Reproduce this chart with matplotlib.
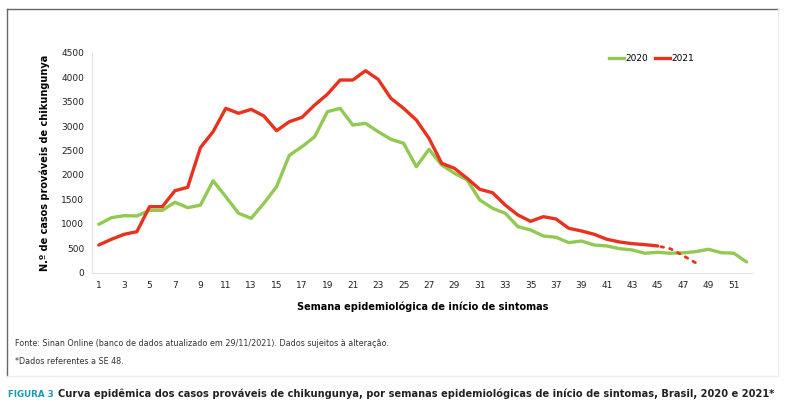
import numpy as np
import matplotlib.pyplot as plt
from matplotlib.lines import Line2D

# Casos prováveis de chikungunya por semana epidemiológica
semanas_2020 = list(range(1, 53))
casos_2020 = [990, 1125, 1166, 1160, 1275, 1275, 1440, 1330, 1380, 1880,
              1554, 1215, 1112, 1419, 1759, 2400, 2577, 2781, 3293, 3362,
              3020, 3055, 2884, 2728, 2646, 2168, 2523, 2203, 2033, 1896,
              1487, 1317, 1215, 941, 873, 750, 724, 614, 648, 566,
              546, 491, 464, 397, 417, 397, 405, 430, 478, 409,
              397, 219]

semanas_2021 = list(range(1, 46))
casos_2021 = [566, 683, 785, 838, 1350, 1350, 1677, 1746, 2557, 2884,
              3362, 3260, 3341, 3205, 2904, 3088, 3178, 3430, 3650, 3941,
              3941, 4131, 3955, 3566, 3362, 3123, 2748, 2237, 2135, 1930,
              1705, 1636, 1384, 1180, 1050, 1145, 1098, 908, 853, 785,
              683, 628, 593, 573, 546]
# semanas recentes (dados incompletos, linha pontilhada)
semanas_2021_parc = [45, 46, 47, 48]
casos_2021_parc = [546, 490, 350, 200]

xticks = list(range(1, 53, 2))

verde = '#92C952'
vermelho = '#E8321E'

fig = plt.figure(figsize=(7.9, 4.15), dpi=100)
ax = fig.add_axes([0.117, 0.343, 0.836, 0.530])

ax.plot(semanas_2020, casos_2020, color=verde, lw=2.4, solid_capstyle='round')
ax.plot(semanas_2021, casos_2021, color=vermelho, lw=2.4, solid_capstyle='round')
ax.plot(semanas_2021_parc, casos_2021_parc, color=vermelho, lw=2.0,
        linestyle=(2, (1, 2.2)), dash_capstyle='round')

ax.set_xlim(0.5, 52.5)
ax.set_ylim(0, 4500)
ax.set_xticks(xticks)
ax.set_yticks(range(0, 4501, 500))
ax.tick_params(length=0, labelsize=6.5, colors='#222222', pad=6)
for s in ['top', 'right']:
    ax.spines[s].set_visible(False)
for s in ['left', 'bottom']:
    ax.spines[s].set_color('#e4e4e4')
    ax.spines[s].set_linewidth(0.8)

ax.set_ylabel('N.º de casos prováveis de chikungunya', fontsize=7,
              fontweight='bold', labelpad=8)
ax.set_xlabel('Semana epidemiológica de início de sintomas', fontsize=7,
              fontweight='bold', labelpad=8)

handles = [Line2D([], [], color=verde, lw=2.4), Line2D([], [], color=vermelho, lw=2.4)]
ax.legend(handles, ['2020', '2021'], loc='upper left', bbox_to_anchor=(0.77, 1.03),
          ncol=2, frameon=False, fontsize=6.5, handlelength=1.6,
          handletextpad=0.2, columnspacing=0.8)

# moldura
fig.add_artist(Line2D([7/790, 778/790], [1 - 9/415, 1 - 9/415], color='#666666', lw=1))
fig.add_artist(Line2D([7/790, 7/790], [1 - 9/415, 1 - 376/415], color='#666666', lw=1))
fig.add_artist(Line2D([778/790, 778/790], [1 - 9/415, 1 - 376/415], color='#eeeeee', lw=1))
fig.add_artist(Line2D([7/790, 778/790], [1 - 376/415, 1 - 376/415], color='#eeeeee', lw=1))

fig.text(15/790, 1 - 343/415, 'Fonte: Sinan Online (banco de dados atualizado em 29/11/2021). Dados sujeitos à alteração.',
         fontsize=5.8, color='#333333', va='center')
fig.text(15/790, 1 - 361/415, '*Dados referentes a SE 48.',
         fontsize=5.8, color='#333333', va='center')

fig_lbl = fig.text(8/790, 1 - 394/415, 'FIGURA 3', fontsize=7, color='#1B9AAA',
                   fontweight='bold', va='center')
titulo = fig.text(58/790, 1 - 394/415,
                  'Curva epidêmica dos casos prováveis de chikungunya, por semanas epidemiológicas de início de sintomas, Brasil, 2020 e 2021*',
                  fontsize=9.6, color='#222222', fontweight='bold', va='center')

# ajustar tamanho da legenda da figura à largura disponível
r = fig.canvas.get_renderer()
for t, largura in [(fig_lbl, 46), (titulo, 720)]:
    w = t.get_window_extent(r).width
    t.set_fontsize(t.get_fontsize() * largura / w)

fig.savefig('out.png', dpi=100)
